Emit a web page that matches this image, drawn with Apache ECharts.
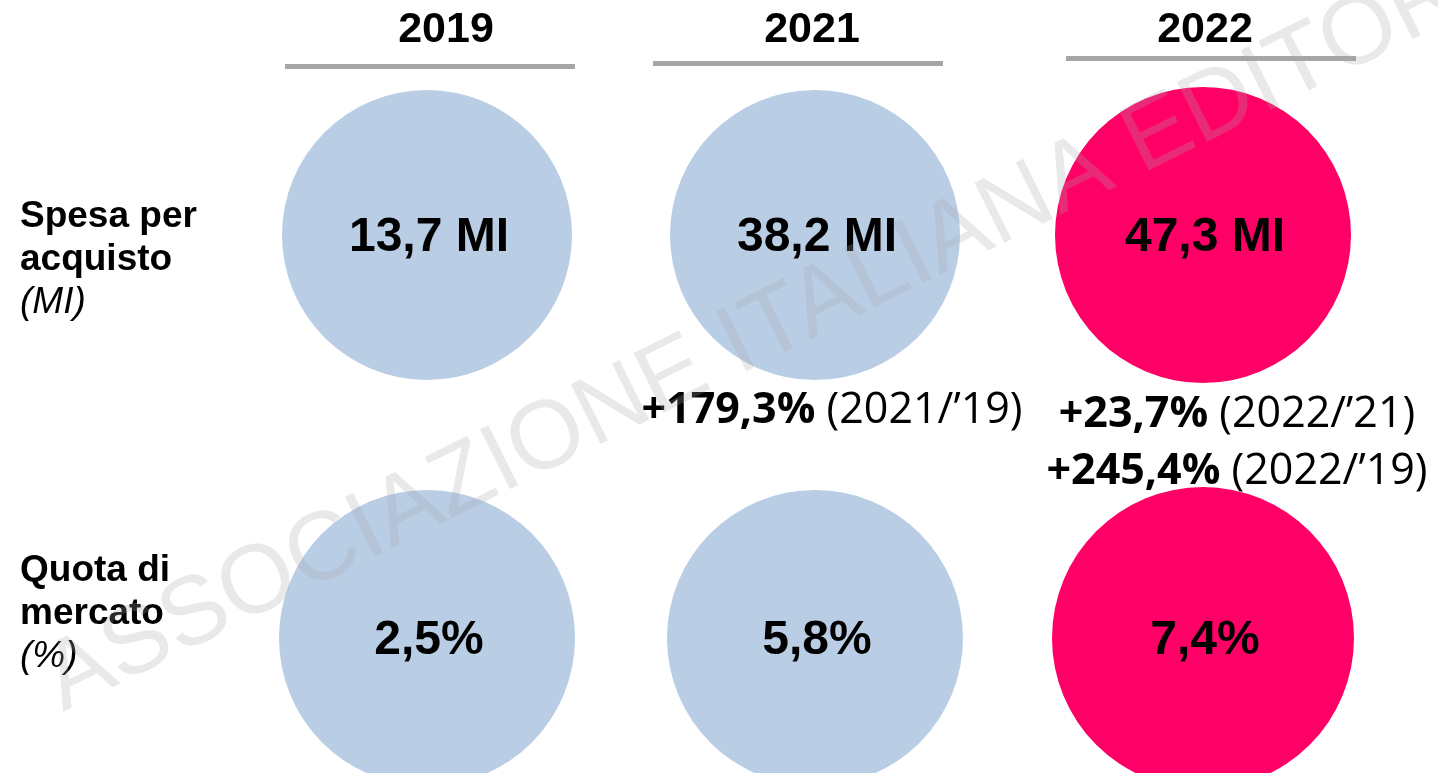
<!DOCTYPE html>
<html>
<head>
<meta charset="utf-8">
<script src="https://cdn.jsdelivr.net/npm/echarts@6.0.0/dist/echarts.min.js"></script>
<style>
  html, body { margin: 0; padding: 0; background: #fff; }
  #chart { width: 1438px; height: 773px; }
</style>
</head>
<body>
<div id="chart"></div>
<script>
  // dati
  const years = ['2019', '2021', '2022'];
  const rows = ['Spesa per acquisto', 'Quota di mercato'];
  const rowLines = [['Spesa per', 'acquisto'], ['Quota di', 'mercato']];
  const rowUnits = ['(MI)', '(%)'];
  const spesa = [13.7, 38.2, 47.3];       // milioni di euro
  const quota = [2.5, 5.8, 7.4];          // % di mercato
  const varPrev = [null, 179.3, 23.7];    // variazione sull'anno precedente
  const varPrevRef = [null, '2021/’19', '2022/’21'];
  const var19 = [null, null, 245.4];      // variazione sul 2019
  const var19Ref = [null, null, '2022/’19'];

  const BLUE = '#b9cde5';
  const PINK = '#ff0066';
  const FONT = '"Liberation Sans", Arial, sans-serif';
  const CAL = '"Open Sans", "Noto Sans", sans-serif';

  const fmt = v => v.toFixed(1).replace('.', ',');
  const colorOf = i => (i === years.length - 1 ? PINK : BLUE);

  // piccoli spostamenti delle intestazioni (come nella slide originale)
  const hdrText = [19, -3, 2];
  const hdrLine = [3, -17, 8];
  const hdrDrop = [0, 3, 8];
  const HDR_BASE = 69;

  let hdrRich = {
    u: {width: 290, height: 5, lineHeight: 5, backgroundColor: '#a6a6a6', fontSize: 1}
  };
  // spaziatori registrati prima di setOption
  hdrText.concat(hdrLine).forEach(n => {
    let w = Math.abs(n) * 2;
    if (w > 0) hdrRich['w' + w] = {width: w, height: 5, lineHeight: 5, fontSize: 1, color: 'rgba(0,0,0,0)'};
  });
  years.forEach((y, i) => {
    hdrRich['y' + i] = {
      fontFamily: FONT, fontWeight: 'bold', fontSize: 43, color: '#000',
      lineHeight: 2 * (HDR_BASE - hdrDrop[i] - 5 - 30)
    };
    hdrRich['g' + i] = {width: 1, height: hdrDrop[i], lineHeight: hdrDrop[i], fontSize: 1, color: 'rgba(0,0,0,0)'};
  });
  function shifted(token, shift) {
    let sp = '{w' + Math.abs(shift) * 2 + '| }';
    if (shift > 0) return sp + token;
    if (shift < 0) return token + sp;
    return token;
  }
  function headerLabel(v, i) {
    let s = shifted('{y' + i + '|' + v + '}', hdrText[i]) + '\n' + shifted('{u| }', hdrLine[i]);
    if (hdrDrop[i] > 0) s += '\n{g' + i + '| }';
    return s;
  }

  let chart = echarts.init(document.getElementById('chart'));

  function circleSeries(name, rowIdx, values, unit, baseSize) {
    return {
      name: name,
      type: 'scatter',
      silent: true,
      data: values.map((v, i) => [years[i], rows[rowIdx], v]),
      symbolSize: (val, p) => baseSize + (p.dataIndex === 2 ? 6 : 0),
      itemStyle: {
        color: p => colorOf(p.dataIndex),
        opacity: 1
      },
      label: {
        show: true,
        position: 'inside',
        formatter: p => fmt(p.value[2]) + unit,
        color: '#000',
        fontFamily: FONT,
        fontWeight: 'bold',
        fontSize: 48,
        offset: [2, 3]
      }
    }
  }

  // etichette delle variazioni, sotto i cerchi della prima riga
  const labelOffsets = [0, 17, 34];
  let varData = [];
  years.forEach((y, i) => {
    if (varPrev[i] == null) return;
    let txt = '{b|+' + fmt(varPrev[i]) + '%}{r| (' + varPrevRef[i] + ')}';
    if (var19[i] != null) {
      txt += '\n{b|+' + fmt(var19[i]) + '%}{r| (' + var19Ref[i] + ')}';
    }
    varData.push({
      value: [y, rows[0], varPrev[i]],
      label: {formatter: txt, offset: [labelOffsets[i], 0]}
    });
  });

  let option = {
    backgroundColor: '#fff',
    animation: false,
    grid: {
      left: 233,
      width: 1164,
      top: 33.5,
      height: 806,
      containLabel: false,
      outerBoundsMode: 'none'
    },
    xAxis: {
      type: 'category',
      data: years,
      position: 'top',
      offset: -(HDR_BASE - 33.5),
      axisLine: {show: false},
      axisTick: {show: false},
      splitLine: {show: false},
      axisLabel: {
        margin: 0,
        verticalAlign: 'bottom',
        formatter: headerLabel,
        rich: hdrRich
      }
    },
    yAxis: {
      type: 'category',
      data: rows,
      inverse: true,
      show: false
    },
    series: [
      circleSeries('Spesa', 0, spesa, ' MI', 290),
      circleSeries('Quota', 1, quota, '%', 296),
      {
        name: 'Variazioni',
        type: 'scatter',
        silent: true,
        data: varData,
        symbolSize: (val, p) => 290 + (p.dataIndex === 1 ? 8 : 0),
        itemStyle: {color: 'rgba(0,0,0,0)', opacity: 1},
        label: {
          show: true,
          position: 'bottom',
          distance: 2,
          align: 'center',
          color: '#000',
          rich: {
            b: {fontFamily: CAL, fontWeight: 'bold', fontSize: 43, color: '#000', lineHeight: 57},
            r: {fontFamily: CAL, fontSize: 43, color: '#000', lineHeight: 57}
          }
        }
      }
    ],
    graphic: [
      // etichette di riga
      ...rows.map((r, k) => ({
        type: 'text',
        left: 20,
        top: k === 0 ? 198 : 552,
        style: {
          text: rowLines[k].map(t => '{b|' + t + '}').join('\n') + '\n{i|' + rowUnits[k] + '}',
          rich: {
            b: {fontFamily: FONT, fontWeight: 'bold', fontSize: 37, fill: '#000', lineHeight: 43},
            i: {fontFamily: FONT, fontStyle: 'italic', fontSize: 37, fill: '#000', lineHeight: 43}
          }
        }
      })),
      // filigrana
      {
        type: 'text',
        x: 51,
        y: 688,
        rotation: 26.5 * Math.PI / 180,
        z: 100,
        silent: true,
        style: {
          text: 'ASSOCIAZIONE ITALIANA EDITORI',
          fontFamily: FONT,
          fontSize: 97,
          fill: 'rgba(166,166,166,0.25)',
          align: 'left',
          verticalAlign: 'middle'
        }
      }
    ]
  };

  chart.setOption(option);
</script>
</body>
</html>
